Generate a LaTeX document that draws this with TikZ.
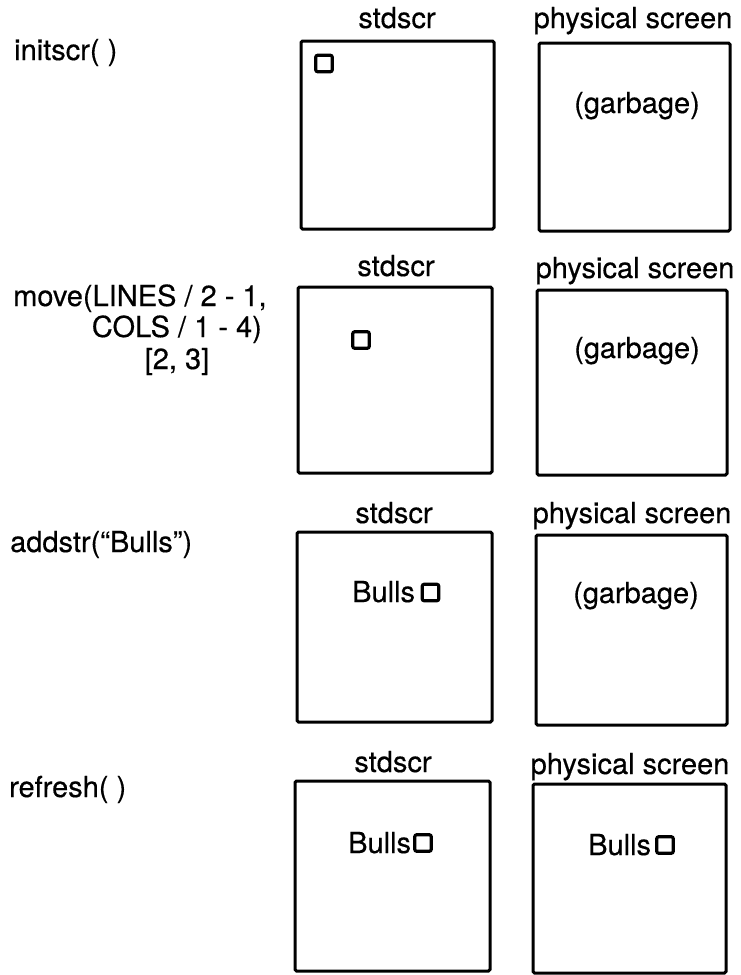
\documentclass[tikz,border=0pt]{standalone}
\usepackage{fontspec}
\setmainfont{TeX Gyre Heros}[FakeBold=0.4]
\begin{document}
\begin{tikzpicture}[x=1pt,y=-1pt,
  txt/.style={inner sep=0pt,font=\fontsize{29}{34}\selectfont,text=black},
  screen/.style={draw=black,line width=3pt,rounded corners=1.5pt,inner sep=0pt},
  cursorbox/.style={draw=black,line width=3.2pt,rounded corners=2pt,inner sep=0pt,minimum size=16.5pt}]
\useasboundingbox[fill=white] (0,0) rectangle (740,975);

% ---------- row 1 ----------
\node[txt,anchor=base west] (c1) at (14,60) {initscr( )};
\node[txt,anchor=base] (l1a) at (397,28) {stdscr};
\node[txt,anchor=base] (l1b) at (633,28) {physical screen};
\node[screen,minimum width=193pt,minimum height=188pt] (s1) at (397.5,135) {};
\node[screen,minimum width=191pt,minimum height=188pt] (p1) at (634.5,137) {};
\node[cursorbox] (k1) at (324,63.5) {};
\node[txt,anchor=base] (g1) at (637,113) {(garbage)};

% ---------- row 2 ----------
\node[txt,anchor=base west] (c2a) at (13,306) {move(LINES / 2 - 1,};
\node[txt,anchor=base east] (c2b) at (262,337) {COLS / 1 - 4)};
\node[txt,anchor=base] (c2c) at (177,369) {[2, 3]};
\node[txt,anchor=base] (l2a) at (396,276) {stdscr};
\node[txt,anchor=base] (l2b) at (635,278) {physical screen};
\node[screen,minimum width=194pt,minimum height=186pt] (s2) at (395,380) {};
\node[screen,minimum width=190pt,minimum height=185pt] (p2) at (632,382.5) {};
\node[cursorbox] (k2) at (361,340) {};
\node[txt,anchor=base] (g2) at (637,358) {(garbage)};

% ---------- row 3 ----------
\node[txt,anchor=base west] (c3) at (10,552) {addstr(“Bulls”)};
\node[txt,anchor=base] (l3a) at (394,523) {stdscr};
\node[txt,anchor=base] (l3b) at (632,523) {physical screen};
\node[screen,minimum width=195pt,minimum height=190pt] (s3) at (394.5,627) {};
\node[screen,minimum width=191pt,minimum height=190pt] (p3) at (631.5,630) {};
\node[txt,anchor=base west] (b3) at (352,602) {Bulls};
\node[cursorbox] (k3) at (430.5,592.5) {};
\node[txt,anchor=base] (g3) at (636,603) {(garbage)};

% ---------- row 4 ----------
\node[txt,anchor=base west] (c4) at (9,797) {refresh( )};
\node[txt,anchor=base] (l4a) at (393,772) {stdscr};
\node[txt,anchor=base] (l4b) at (630,774) {physical screen};
\node[screen,minimum width=195pt,minimum height=190pt] (s4) at (392.5,876) {};
\node[screen,minimum width=193pt,minimum height=189pt] (p4) at (629.5,878.5) {};
\node[txt,anchor=base west] (b4a) at (348,853) {Bulls};
\node[cursorbox] (k4a) at (423,843) {};
\node[txt,anchor=base west] (b4b) at (588,855) {Bulls};
\node[cursorbox] (k4b) at (665,845) {};
\end{tikzpicture}
\end{document}
